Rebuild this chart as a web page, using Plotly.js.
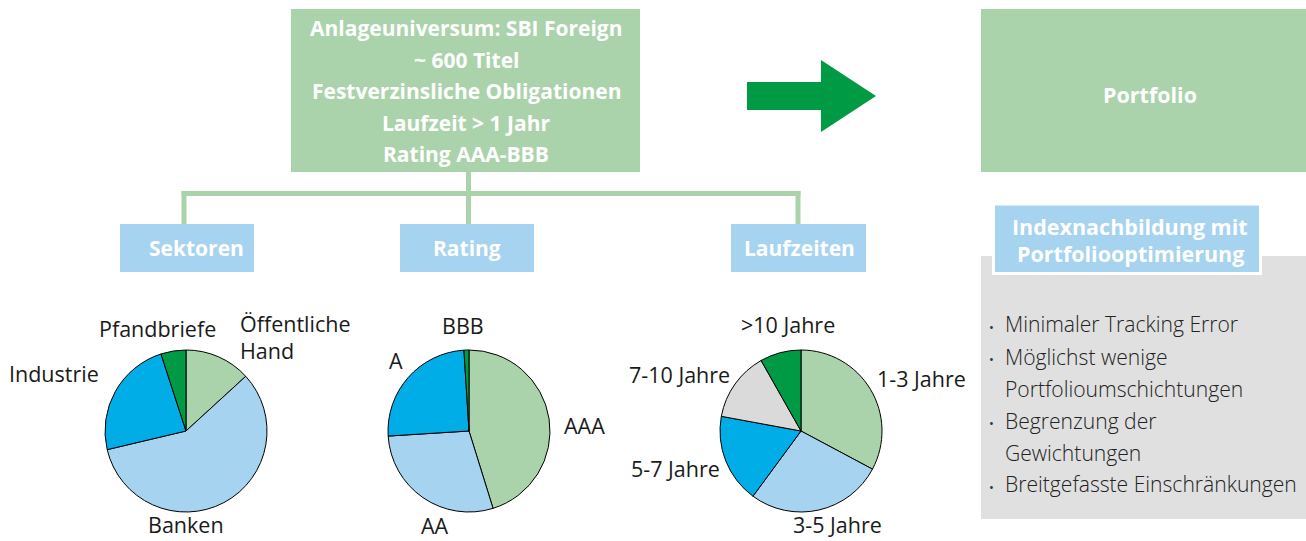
<!DOCTYPE html>
<html>
<head>
<meta charset="utf-8">
<script src="https://cdn.plot.ly/plotly-3.0.1.min.js"></script>
<style>
html,body{margin:0;padding:0;background:#fff;}
#chart{width:1306px;height:541px;}
</style>
</head>
<body>
<div id="chart"></div>
<script>
// ---------- data ----------
const sektorLabels = ['Öffentliche Hand', 'Banken', 'Industrie', 'Pfandbriefe'];
const sektorValues = [13.2, 58.1, 23.7, 5.0];

const ratingLabels = ['AAA', 'AA', 'A', 'BBB'];
const ratingValues = [45.2, 28.8, 25.0, 1.0];

const laufLabels = ['1-3 Jahre', '3-5 Jahre', '5-7 Jahre', '7-10 Jahre', '>10 Jahre'];
const laufValues = [32.8, 27.3, 17.8, 13.9, 8.2];

const groupTitles = ['Sektoren', 'Rating', 'Laufzeiten'];
const universeLines = ['Anlageuniversum: SBI Foreign', '~ 600 Titel', 'Festverzinsliche Obligationen', 'Laufzeit > 1 Jahr', 'Rating AAA-BBB'];
const portfolioTitle = 'Portfolio';
const methodTitle = ['Indexnachbildung mit', 'Portfoliooptimierung'];
const methodLines = ['Minimaler Tracking Error', 'Möglichst wenige', 'Portfolioumschichtungen', 'Begrenzung der', 'Gewichtungen', 'Breitgefasste Einschränkungen'];
const methodBullet = [true, true, false, true, false, true];

// ---------- styles / layout geometry ----------
const W = 1306, H = 541;
const X = v => v / W;
const Y = v => 1 - v / H;

const C_LGREEN = '#abd3ab';
const C_LBLUE = '#a6d3ef';
const C_BLUE = '#00ade6';
const C_DGREEN = '#009a44';
const C_GREY = '#dadadb';
const C_BOX_GREY = '#e0e0e0';
const FONT = '"Open Sans", Lato, sans-serif';
const TXT = '#1a1a1a';

const sektorColors = [C_LGREEN, C_LBLUE, C_BLUE, C_DGREEN];
const ratingColors = [C_LGREEN, C_LBLUE, C_BLUE, C_DGREEN];
const laufColors = [C_LGREEN, C_LBLUE, C_BLUE, C_GREY, C_DGREEN];

const pieGeom = [ {cx: 186, cy: 431, r: 81}, {cx: 469, cy: 431, r: 81}, {cx: 801, cy: 431, r: 81} ];

function pieTrace(labels, values, colors, g) {
  return {
    type: 'pie', labels: labels, values: values, sort: false,
    direction: 'clockwise', rotation: 0,
    marker: {colors: colors, line: {color: '#000', width: 1}},
    textinfo: 'none', hoverinfo: 'label+percent', showlegend: false,
    domain: {x: [X(g.cx - g.r), X(g.cx + g.r)], y: [Y(g.cy + g.r), Y(g.cy - g.r)]}
  };
}

const data = [
  pieTrace(sektorLabels, sektorValues, sektorColors, pieGeom[0]),
  pieTrace(ratingLabels, ratingValues, ratingColors, pieGeom[1]),
  pieTrace(laufLabels, laufValues, laufColors, pieGeom[2])
];

// label positions (center x, baseline y)
const sektorLabelPos = [[238, 331.7, 'left'], [186, 532, 'center'], [54, 381, 'center'], [157.5, 336, 'center']];
const ratingLabelPos = [[584, 433, 'center'], [435, 533, 'center'], [396, 368, 'center'], [463, 333, 'center']];
const laufLabelPos = [[921, 386, 'center'], [837, 532, 'center'], [675, 476, 'center'], [679, 382, 'center'], [787.5, 332, 'center']];

const annotations = [];
const BASE_K = 0.37;
function txt(text, x, baseline, size, opts) {
  opts = opts || {};
  annotations.push({
    xref: 'paper', yref: 'paper', x: X(x), y: Y(baseline - BASE_K * size),
    text: text, showarrow: false,
    xanchor: opts.xanchor || 'center', yanchor: 'middle', align: opts.xanchor || 'center',
    font: {family: FONT, size: size, color: opts.color || TXT, weight: opts.weight || 'normal'}
  });
}

const LBL = 21.5;
// pie labels
sektorLabels.forEach((l, i) => {
  const p = sektorLabelPos[i];
  if (l === 'Öffentliche Hand') {
    txt('Öffentliche', p[0], p[1], LBL, {xanchor: 'left'});
    txt('Hand', p[0], p[1] + 26.5, LBL, {xanchor: 'left'});
  } else {
    txt(l, p[0], p[1], LBL, {xanchor: p[2]});
  }
});
ratingLabels.forEach((l, i) => txt(l, ratingLabelPos[i][0], ratingLabelPos[i][1], LBL));
laufLabels.forEach((l, i) => txt(l.replace('>', '&gt;'), laufLabelPos[i][0], laufLabelPos[i][1], LBL));

// top box lines
const uniBase = [35.7, 67.7, 99, 130.5, 161.7];
universeLines.forEach((l, i) => txt(l.replace('>', '&gt;'), 466, uniBase[i], 21, {color: '#fff', weight: 'bold'}));

// portfolio
txt(portfolioTitle, 1150, 102, 21.5, {color: '#fff', weight: 'bold'});

// group titles
const groupTitlePos = [[196, 256], [466.5, 256], [799, 256]];
groupTitles.forEach((l, i) => txt(l, groupTitlePos[i][0], groupTitlePos[i][1], 21, {color: '#fff', weight: 'bold'}));

// method title
txt(methodTitle[0], 1130, 234, 21.5, {color: '#fff', weight: 'bold'});
txt(methodTitle[1], 1130, 261.5, 21.5, {color: '#fff', weight: 'bold'});

// bullets
const bulletBase = [331.7, 364, 396, 428, 460, 491.7];
methodLines.forEach((l, i) => {
  if (methodBullet[i]) txt('•', 991, bulletBase[i], 13, {xanchor: 'center', color: '#333'});
  txt(l, 1003, bulletBase[i], 21.1, {xanchor: 'left', color: '#222', weight: 300});
});

// shapes
const shapes = [];
function rect(x0, y0, x1, y1, fill, line) {
  shapes.push({type: 'rect', xref: 'paper', yref: 'paper', x0: X(x0), x1: X(x1), y0: Y(y1), y1: Y(y0),
    fillcolor: fill, line: line || {width: 0}, layer: 'below'});
}
function seg(x0, y0, x1, y1) {
  shapes.push({type: 'line', xref: 'paper', yref: 'paper', x0: X(x0), x1: X(x1), y0: Y(y0), y1: Y(y1),
    line: {color: C_LGREEN, width: 5}, layer: 'below'});
}
// connectors
seg(468.5, 172, 468.5, 225);
seg(181.5, 193.5, 800.5, 193.5);
seg(184, 191, 184, 225);
seg(798, 191, 798, 225);
// boxes
rect(291, 9, 640, 172, C_LGREEN);
rect(981, 9, 1306, 172, C_LGREEN);
rect(120, 224, 254, 272, C_LBLUE);
rect(400, 224, 534, 272, C_LBLUE);
rect(731, 224, 866, 272, C_LBLUE);
rect(981, 256, 1306, 519, C_BOX_GREY);
rect(993.5, 204, 1260.5, 273.5, C_LBLUE, {color: '#fff', width: 3});
// arrow
const ap = [[747, 82], [821, 82], [821, 60], [876, 96], [821, 132], [821, 110], [747, 110]];
shapes.push({type: 'path', xref: 'paper', yref: 'paper',
  path: 'M' + ap.map(p => X(p[0]).toFixed(6) + ',' + Y(p[1]).toFixed(6)).join(' L') + ' Z',
  fillcolor: C_DGREEN, line: {width: 0}, layer: 'below'});

const layout = {
  width: W, height: H, margin: {l: 0, r: 0, t: 0, b: 0},
  paper_bgcolor: '#fff', plot_bgcolor: '#fff', showlegend: false,
  shapes: shapes, annotations: annotations,
  font: {family: FONT}
};

Plotly.newPlot('chart', data, layout, {displayModeBar: false, staticPlot: true});
</script>
</body>
</html>
